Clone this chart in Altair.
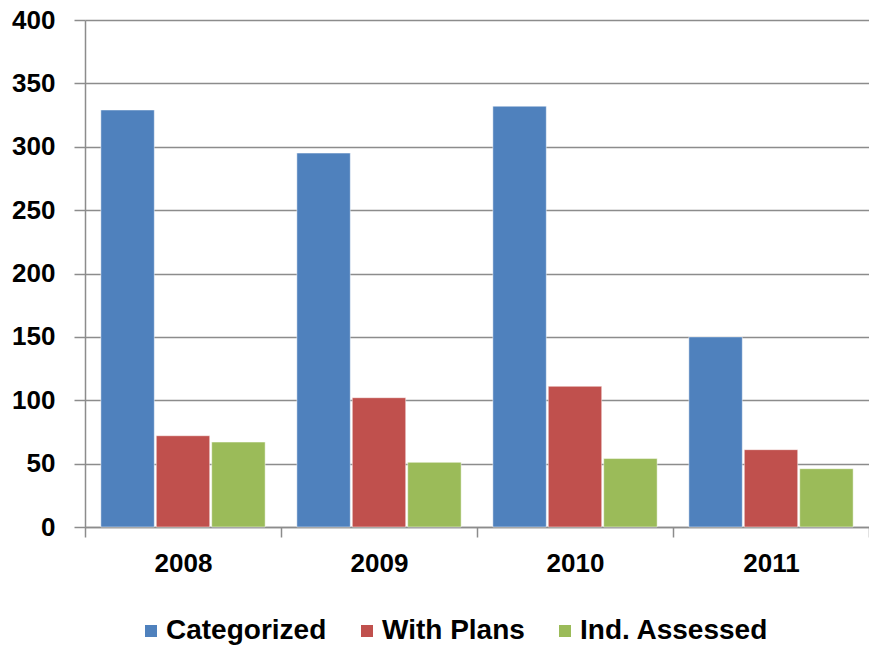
import altair as alt
import pandas as pd

years = ["2008", "2009", "2010", "2011"]
series = ["Categorized", "With Plans", "Ind. Assessed"]
categorized = [329, 295, 332, 150]
with_plans = [72, 102, 111, 61]
ind_assessed = [67, 51, 54, 46]
colors = ["#4F81BD", "#C0504D", "#9BBB59"]
y_ticks = [0, 50, 100, 150, 200, 250, 300, 350, 400]

rows = []
for name, vals in zip(series, [categorized, with_plans, ind_assessed]):
    for yr, v in zip(years, vals):
        rows.append({"year": yr, "series": name, "value": v})
df = pd.DataFrame(rows)

font = "Liberation Sans"

chart = (
    alt.Chart(df)
    .mark_bar(stroke="#ffffff", strokeWidth=0.8, strokeOpacity=0.6)
    .encode(
        x=alt.X(
            "year:N",
            sort=years,
            title=None,
            scale=alt.Scale(paddingInner=0, paddingOuter=0),
            axis=alt.Axis(
                labelAngle=0,
                tickBand="extent",
                tickSize=10,
                labelPadding=13,
                domainColor="#8c8c8c",
                tickColor="#8c8c8c",
                domainWidth=1.5,
                tickWidth=1.5,
            ),
        ),
        xOffset=alt.XOffset(
            "series:N",
            sort=series,
            scale=alt.Scale(paddingInner=0.036, paddingOuter=0.286),
        ),
        y=alt.Y(
            "value:Q",
            title=None,
            scale=alt.Scale(domain=[0, 400], nice=False),
            axis=alt.Axis(
                values=y_ticks,
                tickSize=11,
                labelPadding=19,
                grid=True,
                gridColor="#8c8c8c",
                gridWidth=1.5,
                domainColor="#8c8c8c",
                tickColor="#8c8c8c",
                domainWidth=1.5,
                tickWidth=1.5,
            ),
        ),
        color=alt.Color(
            "series:N",
            sort=series,
            scale=alt.Scale(domain=series, range=colors),
            legend=alt.Legend(
                title=None,
                orient="none",
                direction="horizontal",
                legendX=52,
                legendY=597,
                symbolType="square",
                symbolSize=144,
                symbolStrokeWidth=0,
                labelOffset=1,
                columnPadding=26,
            ),
        ),
    )
    .properties(
        width=784,
        height=507,
        autosize=alt.AutoSizeParams(type="none"),
        padding={"left": 85, "top": 20, "right": 0, "bottom": 121},
    )
    .configure_view(stroke=None)
    .configure_axis(
        labelFont=font,
        labelFontSize=26,
        labelFontWeight="bold",
        labelColor="#000000",
    )
    .configure_legend(
        labelFont=font,
        labelFontSize=28,
        labelFontWeight="bold",
        labelColor="#000000",
        labelLimit=300,
    )
)

chart.save("out.html", embed_options={"renderer": "svg", "actions": False})
